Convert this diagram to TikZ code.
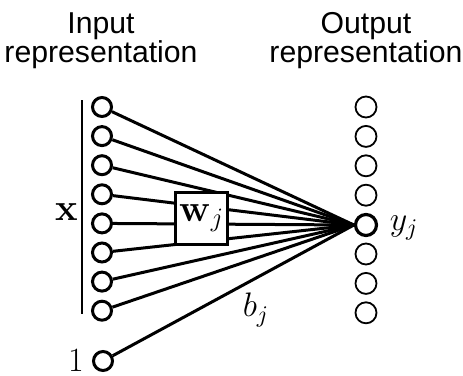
\RequirePackage{fix-cm}
\documentclass[tikz,border=0pt]{standalone}
\usepackage{amsmath,amssymb}
\usepackage{fontspec}
\newfontfamily\headfont{Liberation Sans}
\tikzset{
  inunit/.style={draw, circle, line width=1.5pt, minimum size=9.5pt, inner sep=0pt},
  outunit/.style={draw, circle, line width=0.9pt, minimum size=10.5pt, inner sep=0pt},
  yunit/.style={outunit, line width=1.6pt},
  conn/.style={line width=1.5pt},
  wbox/.style={draw, fill=white, line width=1.5pt, minimum size=26pt, inner sep=0pt},
  head/.style={align=center, font=\headfont\fontsize{15.1}{14.5}\selectfont},
  mlab/.style={font=\fontsize{19}{21}\selectfont},
  blab/.style={font=\fontsize{17}{19}\selectfont},
}
\begin{document}
\begin{tikzpicture}[x=0.5pt,y=-0.5pt]
\useasboundingbox (0,0) rectangle (463,376);
\node[head] (hin) at (101,41) {Input\\representation};
\node[head] (hout) at (366,41) {Output\\representation};
\foreach \i in {1,...,8} {
  \node[inunit] (in\i) at (102,{107+29.1*(\i-1)}) {};
}
\node[inunit] (bias) at (103,361) {};
\foreach \i in {1,2,3,4,6,7,8} {
  \node[outunit] (out\i) at (366,{107+29.4*(\i-1)}) {};
}
\node[yunit] (out5) at (366,225) {};
\foreach \i in {1,...,8} {
  \draw[conn] (in\i) -- (out5.west);
}
\draw[conn] (bias) -- (out5.west);
\node[wbox, mlab] (w) at (202,218) {$\textbf{w}_j$};
\coordinate (xtop) at (82,100);
\coordinate (xbot) at (82,314);
\draw[line width=0.7pt] (xtop) -- (xbot);
\node[mlab] (xlab) at (67,212) {$\textbf{x}$};
\node[blab] (one) at (76,361) {$1$};
\node[blab] (yj) at (404,228) {$y_j$};
\node[blab] (bj) at (256,310) {$b_j$};
\end{tikzpicture}
\end{document}
